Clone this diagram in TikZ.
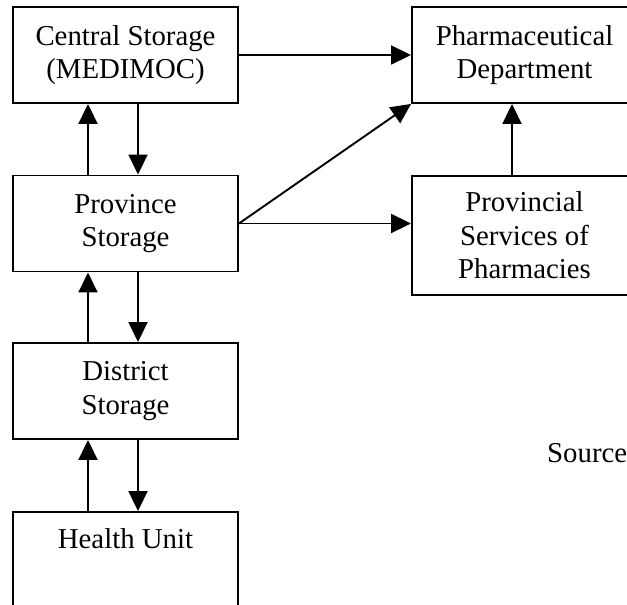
\documentclass[tikz,border=0pt]{standalone}
\usepackage{fontspec}
\setmainfont{Liberation Serif}
\usetikzlibrary{arrows.meta}

\begin{document}
\begin{tikzpicture}[x=1bp, y=-1bp,
	box/.style={draw, line width=1.9bp, minimum width=225bp, minimum height=96bp, inner sep=0pt, align=center, font=\fontsize{28.8bp}{33.5bp}\selectfont},
	flow/.style={line width=1.9bp, -{Triangle[length=20bp, width=19bp]}}]
	%%%%% START %%%%%
	
	\useasboundingbox (0, 0) rectangle (627, 605);
	\clip (0, 0) rectangle (627, 605);
	
	\node[box] (central) at (125.5, 55) {Central Storage\\(MEDIMOC)};
	\node[box] (province) at (125.5, 223.5) {Province\\Storage};
	\node[box] (district) at (125.5, 391) {District\\Storage};
	\node[box] (health) at (125.5, 560) {Health Unit\\\strut};
	
	\node[box] (pharm) at (524.5, 55) {Pharmaceutical\\Department};
	\node[box, minimum height=119bp] (provincial) at (524.5, 235.5) {Provincial\\Services of\\Pharmacies};
	
	\node[font=\fontsize{28.8bp}{33.5bp}\selectfont, anchor=base west, inner sep=0pt] (source) at (547, 462) {Source};
	
	\draw[flow] ([xshift=-37.5bp]province.north) -- ([xshift=-37.5bp]central.south);
	\draw[flow] ([xshift=12.5bp]central.south) -- ([xshift=12.5bp]province.north);
	\draw[flow] ([xshift=-37.5bp]district.north) -- ([xshift=-37.5bp]province.south);
	\draw[flow] ([xshift=12.5bp]province.south) -- ([xshift=12.5bp]district.north);
	\draw[flow] ([xshift=-37.5bp]health.north) -- ([xshift=-37.5bp]district.south);
	\draw[flow] ([xshift=12.5bp]district.south) -- ([xshift=12.5bp]health.north);
	
	\draw[flow] (central.east) -- (pharm.west);
	\draw[flow] (province.east) -- (pharm.south west);
	\draw[flow] (province.east) -- (province.east -| provincial.west);
	\draw[flow] ([xshift=-12.5bp]provincial.north) -- ([xshift=-12.5bp]pharm.south);
	
	%%%%% END %%%%%
\end{tikzpicture}
\end{document}
